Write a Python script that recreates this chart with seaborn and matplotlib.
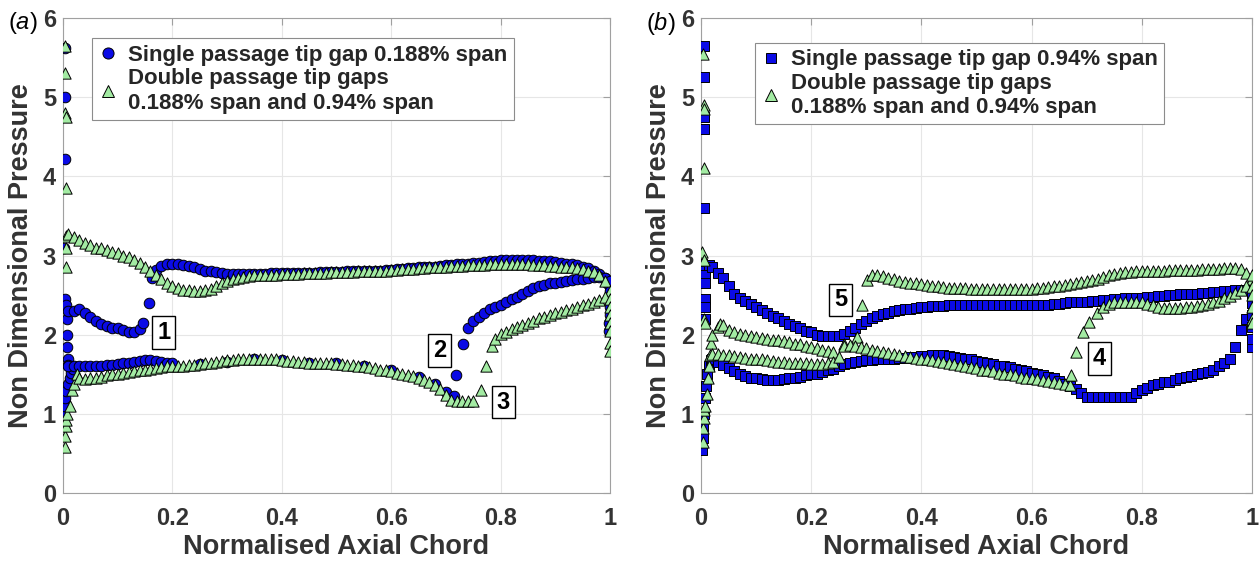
import numpy as np
import pandas as pd
import matplotlib
matplotlib.use("Agg")
import matplotlib.pyplot as plt
from matplotlib.lines import Line2D
import seaborn as sns

# ---------------- Panel (a) data ----------------
# single passage 0.188% span (circles)
a_c_le_x = [0.004, 0.004, 0.004, 0.002, 0.004, 0.006, 0.008, 0.008, 0.008, 0.009, 0.009,
            0.0, 0.002, 0.004, 0.006, 0.009, 0.012, 0.015, 0.018]
a_c_le_y = [5.62, 5.0, 4.22, 3.1, 2.45, 2.38, 2.2, 2.0, 1.85, 1.7, 1.62,
            1.0, 1.1, 1.2, 1.29, 1.38, 1.46, 1.52, 1.57]
a_c_s1_x = [0.01, 0.02, 0.03, 0.04, 0.05, 0.06, 0.07, 0.08, 0.09, 0.10, 0.11, 0.12, 0.13, 0.14, 0.147, 0.157]
a_c_s1_y = [2.30, 2.30, 2.33, 2.28, 2.23, 2.18, 2.14, 2.11, 2.09, 2.08, 2.06, 2.04, 2.03, 2.07, 2.15, 2.40]
a_c_top_x = [0.163, 0.17, 0.18, 0.19, 0.20, 0.21, 0.22, 0.23, 0.24, 0.25, 0.26, 0.27, 0.28, 0.29,
             0.30, 0.31, 0.32, 0.33, 0.34, 0.35, 0.36, 0.37, 0.38, 0.39, 0.40, 0.41, 0.42, 0.43,
             0.44, 0.45, 0.46, 0.47, 0.48, 0.49, 0.50, 0.51, 0.52, 0.53, 0.54, 0.55, 0.56, 0.57,
             0.58, 0.59, 0.60, 0.61, 0.62, 0.63, 0.64, 0.65, 0.66, 0.67, 0.68, 0.69, 0.70, 0.71,
             0.72, 0.73, 0.74, 0.75, 0.76, 0.77, 0.78, 0.79, 0.80, 0.81, 0.82, 0.83, 0.84, 0.85,
             0.86, 0.87, 0.88, 0.89, 0.90, 0.91, 0.92, 0.93, 0.94, 0.95, 0.96, 0.97, 0.98, 0.99,
             0.995, 1.0]
a_c_top_y = [2.72, 2.82, 2.87, 2.89, 2.90, 2.89, 2.88, 2.87, 2.85, 2.83, 2.81, 2.80, 2.79, 2.78,
             2.77, 2.77, 2.77, 2.77, 2.77, 2.77, 2.77, 2.77, 2.78, 2.78, 2.78, 2.78, 2.78, 2.78,
             2.78, 2.78, 2.78, 2.79, 2.79, 2.79, 2.79, 2.79, 2.80, 2.80, 2.80, 2.80, 2.81, 2.81,
             2.81, 2.82, 2.82, 2.83, 2.83, 2.84, 2.84, 2.85, 2.85, 2.86, 2.86, 2.87, 2.88, 2.88,
             2.89, 2.90, 2.90, 2.91, 2.91, 2.92, 2.93, 2.93, 2.94, 2.94, 2.94, 2.94, 2.94, 2.94,
             2.94, 2.93, 2.93, 2.93, 2.92, 2.91, 2.90, 2.89, 2.88, 2.86, 2.84, 2.81, 2.77, 2.72,
             2.66, 2.60]
a_c_low_x = [0.01, 0.02, 0.03, 0.04, 0.05, 0.06, 0.07, 0.08, 0.09, 0.10, 0.11, 0.12, 0.13, 0.14,
             0.15, 0.16, 0.17, 0.18, 0.19, 0.20, 0.25, 0.30, 0.35, 0.40, 0.45, 0.50, 0.55, 0.60,
             0.65, 0.68, 0.70, 0.714, 0.719, 0.731]
a_c_low_y = [1.61, 1.60, 1.60, 1.60, 1.60, 1.61, 1.61, 1.62, 1.62, 1.63, 1.64, 1.65, 1.66, 1.67,
             1.68, 1.68, 1.67, 1.66, 1.65, 1.64, 1.63, 1.66, 1.70, 1.68, 1.65, 1.64, 1.61, 1.55,
             1.47, 1.38, 1.28, 1.23, 1.49, 1.88]
a_c_te_x = [0.741, 0.75, 0.76, 0.77, 0.78, 0.79, 0.80, 0.81, 0.82, 0.83, 0.84, 0.85, 0.86, 0.87,
            0.88, 0.89, 0.90, 0.91, 0.92, 0.93, 0.94, 0.95, 0.96, 0.97, 0.98, 0.99, 1.0,
            1.0, 1.0, 1.0, 1.0, 0.999, 0.999]
a_c_te_y = [2.09, 2.17, 2.23, 2.28, 2.32, 2.35, 2.38, 2.42, 2.45, 2.48, 2.52, 2.55, 2.59, 2.61,
            2.63, 2.65, 2.66, 2.67, 2.68, 2.69, 2.70, 2.71, 2.72, 2.73, 2.73, 2.72, 2.68,
            2.55, 2.45, 2.35, 2.25, 2.15, 2.05]

# double passage (triangles)
a_t_le_x = [0.004, 0.004, 0.004, 0.005, 0.005, 0.006, 0.005, 0.006,
            0.003, 0.004, 0.005, 0.006, 0.008, 0.012, 0.016, 0.02, 0.025]
a_t_le_y = [5.65, 5.3, 4.8, 4.75, 3.85, 3.25, 3.1, 2.85,
            0.58, 0.72, 0.85, 0.92, 1.0, 1.1, 1.3, 1.38, 1.5]
a_t_top_x = [0.01, 0.02, 0.03, 0.04, 0.05, 0.06, 0.07, 0.08, 0.09, 0.10, 0.11, 0.12, 0.13, 0.14,
             0.15, 0.16, 0.17, 0.18, 0.19, 0.20, 0.21, 0.22, 0.23, 0.24, 0.25, 0.26, 0.27, 0.28,
             0.29, 0.30, 0.31, 0.32, 0.33, 0.34, 0.35, 0.36, 0.37, 0.38, 0.39, 0.40, 0.41, 0.42,
             0.43, 0.44, 0.45, 0.46, 0.47, 0.48, 0.49, 0.50, 0.51, 0.52, 0.53, 0.54, 0.55, 0.56,
             0.57, 0.58, 0.59, 0.60, 0.61, 0.62, 0.63, 0.64, 0.65, 0.66, 0.67, 0.68, 0.69, 0.70,
             0.71, 0.72, 0.73, 0.74, 0.75, 0.76, 0.77, 0.78, 0.79, 0.80, 0.81, 0.82, 0.83, 0.84,
             0.85, 0.86, 0.87, 0.88, 0.89, 0.90, 0.91, 0.92, 0.93, 0.94, 0.95, 0.96, 0.97, 0.98,
             0.99, 1.0]
a_t_top_y = [3.27, 3.24, 3.20, 3.16, 3.13, 3.10, 3.09, 3.07, 3.05, 3.03, 3.00, 2.98, 2.95, 2.91,
             2.86, 2.80, 2.75, 2.70, 2.66, 2.62, 2.59, 2.57, 2.56, 2.55, 2.55, 2.56, 2.58, 2.61,
             2.65, 2.68, 2.70, 2.72, 2.73, 2.74, 2.75, 2.75, 2.76, 2.76, 2.76, 2.77, 2.77, 2.77,
             2.77, 2.78, 2.78, 2.78, 2.78, 2.78, 2.79, 2.79, 2.79, 2.79, 2.79, 2.80, 2.80, 2.80,
             2.81, 2.81, 2.81, 2.82, 2.82, 2.83, 2.83, 2.83, 2.84, 2.84, 2.85, 2.85, 2.86, 2.86,
             2.87, 2.87, 2.87, 2.88, 2.88, 2.88, 2.88, 2.89, 2.89, 2.89, 2.89, 2.89, 2.89, 2.89,
             2.89, 2.88, 2.88, 2.88, 2.87, 2.87, 2.86, 2.86, 2.85, 2.84, 2.83, 2.81, 2.79, 2.75,
             2.68, 2.55]
a_t_low_x = [0.03, 0.04, 0.05, 0.06, 0.07, 0.08, 0.09, 0.10, 0.11, 0.12, 0.13, 0.14, 0.15, 0.16,
             0.17, 0.18, 0.19, 0.20, 0.21, 0.22, 0.23, 0.24, 0.25, 0.26, 0.27, 0.28, 0.29, 0.30,
             0.31, 0.32, 0.33, 0.34, 0.35, 0.36, 0.37, 0.38, 0.39, 0.40, 0.41, 0.42, 0.43, 0.44,
             0.45, 0.46, 0.47, 0.48, 0.49, 0.50, 0.51, 0.52, 0.53, 0.54, 0.55, 0.56, 0.57, 0.58,
             0.59, 0.60, 0.61, 0.62, 0.63, 0.64, 0.65, 0.66, 0.67, 0.68, 0.69, 0.70, 0.71, 0.72,
             0.73, 0.74, 0.75, 0.765, 0.774, 0.785]
a_t_low_y = [1.45, 1.44, 1.45, 1.46, 1.47, 1.49, 1.50, 1.51, 1.52, 1.53, 1.54, 1.55, 1.56, 1.57,
             1.58, 1.59, 1.60, 1.60, 1.61, 1.61, 1.62, 1.62, 1.63, 1.64, 1.65, 1.66, 1.67, 1.68,
             1.68, 1.69, 1.69, 1.70, 1.70, 1.70, 1.70, 1.69, 1.69, 1.68, 1.67, 1.67, 1.66, 1.66,
             1.65, 1.65, 1.64, 1.64, 1.64, 1.63, 1.63, 1.62, 1.62, 1.61, 1.60, 1.59, 1.58, 1.56,
             1.55, 1.54, 1.52, 1.51, 1.49, 1.48, 1.46, 1.43, 1.40, 1.36, 1.31, 1.24, 1.18, 1.17,
             1.17, 1.17, 1.17, 1.30, 1.60, 1.86]
a_t_te_x = [0.79, 0.80, 0.81, 0.82, 0.83, 0.84, 0.85, 0.86, 0.87, 0.88, 0.89, 0.90, 0.91, 0.92,
            0.93, 0.94, 0.95, 0.96, 0.97, 0.98, 0.99,
            1.0, 1.0, 1.0, 1.0, 1.0, 1.0, 1.0]
a_t_te_y = [1.95, 2.01, 2.04, 2.07, 2.10, 2.12, 2.15, 2.18, 2.21, 2.23, 2.25, 2.27, 2.29, 2.31,
            2.33, 2.35, 2.37, 2.39, 2.41, 2.44, 2.48,
            2.45, 2.35, 2.25, 2.15, 2.05, 1.9, 1.8]

# ---------------- Panel (b) data ----------------
# single passage 0.94% span (squares)
b_s_le_x = [0.005, 0.006, 0.005, 0.006, 0.006, 0.002, 0.005, 0.008, 0.008, 0.008, 0.008, 0.008,
            0.002, 0.003, 0.004, 0.005, 0.007, 0.009, 0.011, 0.014, 0.018]
b_s_le_y = [5.65, 5.25, 4.75, 4.6, 3.6, 2.9, 2.8, 2.75, 2.65, 2.45, 2.35, 2.2,
            0.55, 0.7, 0.85, 1.0, 1.2, 1.35, 1.5, 1.6, 1.68]
b_s_top_x = [0.015, 0.02, 0.03, 0.04, 0.05, 0.06, 0.07, 0.08, 0.09, 0.10, 0.11, 0.12, 0.13, 0.14,
             0.15, 0.16, 0.17, 0.18, 0.19, 0.20, 0.21, 0.22, 0.23, 0.24, 0.25, 0.26, 0.27, 0.28,
             0.29, 0.30, 0.31, 0.32, 0.33, 0.34, 0.35, 0.36, 0.37, 0.38, 0.39, 0.40, 0.41, 0.42,
             0.43, 0.44, 0.45, 0.46, 0.47, 0.48, 0.49, 0.50, 0.51, 0.52, 0.53, 0.54, 0.55, 0.56,
             0.57, 0.58, 0.59, 0.60, 0.61, 0.62, 0.63, 0.64, 0.65, 0.66, 0.67, 0.68, 0.69, 0.70,
             0.71, 0.72, 0.73, 0.74, 0.75, 0.76, 0.77, 0.78, 0.79, 0.80, 0.81, 0.82, 0.83, 0.84,
             0.85, 0.86, 0.87, 0.88, 0.89, 0.90, 0.91, 0.92, 0.93, 0.94, 0.95, 0.96, 0.97, 0.98,
             0.99, 1.0]
b_s_top_y = [2.88, 2.85, 2.78, 2.72, 2.62, 2.52, 2.47, 2.43, 2.39, 2.35, 2.31, 2.28, 2.24, 2.21,
             2.17, 2.14, 2.11, 2.08, 2.05, 2.03, 2.00, 1.99, 1.98, 1.98, 1.99, 2.01, 2.05, 2.09,
             2.14, 2.18, 2.21, 2.24, 2.26, 2.28, 2.30, 2.31, 2.32, 2.33, 2.34, 2.35, 2.35, 2.36,
             2.36, 2.36, 2.37, 2.37, 2.37, 2.37, 2.37, 2.37, 2.37, 2.37, 2.37, 2.37, 2.37, 2.37,
             2.37, 2.37, 2.37, 2.37, 2.37, 2.38, 2.38, 2.39, 2.39, 2.40, 2.41, 2.41, 2.42, 2.42,
             2.43, 2.43, 2.44, 2.44, 2.45, 2.45, 2.46, 2.46, 2.47, 2.47, 2.48, 2.48, 2.49, 2.49,
             2.50, 2.50, 2.51, 2.51, 2.52, 2.52, 2.53, 2.53, 2.54, 2.54, 2.55, 2.55, 2.56, 2.57,
             2.57, 2.55]
b_s_low_x = [0.02, 0.03, 0.04, 0.05, 0.06, 0.07, 0.08, 0.09, 0.10, 0.11, 0.12, 0.13, 0.14, 0.15,
             0.16, 0.17, 0.18, 0.19, 0.20, 0.21, 0.22, 0.23, 0.24, 0.25, 0.26, 0.27, 0.28, 0.29,
             0.30, 0.31, 0.32, 0.33, 0.34, 0.35, 0.36, 0.37, 0.38, 0.39, 0.40, 0.41, 0.42, 0.43,
             0.44, 0.45, 0.46, 0.47, 0.48, 0.49, 0.50, 0.51, 0.52, 0.53, 0.54, 0.55, 0.56, 0.57,
             0.58, 0.59, 0.60, 0.61, 0.62, 0.63, 0.64, 0.65, 0.66, 0.67, 0.68, 0.69, 0.70, 0.71,
             0.72, 0.73, 0.74, 0.75, 0.76, 0.77, 0.78, 0.79, 0.80, 0.81, 0.82, 0.83, 0.84, 0.85,
             0.86, 0.87, 0.88, 0.89, 0.90, 0.91, 0.92, 0.93, 0.94, 0.95, 0.96, 0.97, 0.98, 0.99,
             1.0, 1.0, 1.0, 1.0, 1.0, 1.0]
b_s_low_y = [1.70, 1.66, 1.62, 1.58, 1.54, 1.51, 1.48, 1.46, 1.45, 1.44, 1.43, 1.43, 1.43, 1.44,
             1.45, 1.46, 1.47, 1.49, 1.50, 1.51, 1.53, 1.55, 1.57, 1.60, 1.63, 1.65, 1.66, 1.67,
             1.68, 1.68, 1.69, 1.69, 1.70, 1.70, 1.71, 1.71, 1.72, 1.72, 1.73, 1.73, 1.74, 1.74,
             1.74, 1.73, 1.72, 1.71, 1.70, 1.69, 1.67, 1.66, 1.65, 1.63, 1.61, 1.60, 1.59, 1.57,
             1.56, 1.54, 1.52, 1.51, 1.49, 1.47, 1.45, 1.42, 1.38, 1.35, 1.31, 1.26, 1.22, 1.21,
             1.21, 1.21, 1.22, 1.22, 1.22, 1.22, 1.22, 1.26, 1.30, 1.33, 1.36, 1.38, 1.40, 1.41,
             1.43, 1.45, 1.47, 1.48, 1.50, 1.52, 1.53, 1.56, 1.60, 1.64, 1.70, 1.84, 2.06, 2.20,
             1.84, 1.95, 2.10, 2.25, 2.40, 2.50]

# double passage (triangles)
b_t_le_x = [0.004, 0.005, 0.005, 0.005, 0.001, 0.006, 0.006, 0.007,
            0.003, 0.004, 0.005, 0.006, 0.008, 0.010, 0.012, 0.014, 0.016, 0.018, 0.020]
b_t_le_y = [5.55, 4.9, 4.85, 4.1, 3.05, 2.95, 2.2, 2.15,
            0.65, 0.82, 0.95, 1.05, 1.1, 1.25, 1.45, 1.6, 1.75, 1.9, 2.0]
b_t_top_x = [0.293, 0.302, 0.31, 0.32, 0.33, 0.34, 0.35, 0.36, 0.37, 0.38, 0.39, 0.40, 0.41, 0.42,
             0.43, 0.44, 0.45, 0.46, 0.47, 0.48, 0.49, 0.50, 0.51, 0.52, 0.53, 0.54, 0.55, 0.56,
             0.57, 0.58, 0.59, 0.60, 0.61, 0.62, 0.63, 0.64, 0.65, 0.66, 0.67, 0.68, 0.69, 0.70,
             0.71, 0.72, 0.73, 0.74, 0.75, 0.76, 0.77, 0.78, 0.79, 0.80, 0.81, 0.82, 0.83, 0.84,
             0.85, 0.86, 0.87, 0.88, 0.89, 0.90, 0.91, 0.92, 0.93, 0.94, 0.95, 0.96, 0.97, 0.98,
             0.99, 1.0]
b_t_top_y = [2.37, 2.69, 2.76, 2.76, 2.74, 2.72, 2.70, 2.68, 2.67, 2.66, 2.65, 2.64, 2.63, 2.62,
             2.61, 2.60, 2.59, 2.59, 2.59, 2.59, 2.58, 2.58, 2.58, 2.58, 2.58, 2.58, 2.58, 2.58,
             2.58, 2.58, 2.58, 2.58, 2.59, 2.59, 2.60, 2.61, 2.62, 2.63, 2.64, 2.65, 2.67, 2.68,
             2.69, 2.71, 2.73, 2.75, 2.77, 2.78, 2.79, 2.79, 2.80, 2.80, 2.81, 2.81, 2.81, 2.81,
             2.82, 2.82, 2.82, 2.82, 2.82, 2.82, 2.83, 2.83, 2.83, 2.83, 2.84, 2.84, 2.84, 2.83,
             2.78, 2.70]
b_t_mid1_x = [0.03, 0.035, 0.04, 0.05, 0.06, 0.07, 0.08, 0.09, 0.10, 0.11, 0.12, 0.13, 0.14, 0.15,
              0.16, 0.17, 0.18, 0.19, 0.20, 0.21, 0.22, 0.23, 0.24]
b_t_mid1_y = [2.10, 2.14, 2.12, 2.06, 2.03, 2.01, 2.00, 1.98, 1.97, 1.96, 1.95, 1.94, 1.93, 1.92,
              1.91, 1.89, 1.88, 1.86, 1.85, 1.83, 1.81, 1.79, 1.78]
b_t_mid2_x = [0.02, 0.03, 0.04, 0.05, 0.06, 0.07, 0.08, 0.09, 0.10, 0.11, 0.12, 0.13, 0.14, 0.15,
              0.16, 0.17, 0.18, 0.19, 0.20, 0.21, 0.22, 0.23, 0.24, 0.25, 0.259, 0.284]
b_t_mid2_y = [1.76, 1.76, 1.75, 1.74, 1.73, 1.72, 1.71, 1.70, 1.69, 1.69, 1.68, 1.67, 1.66, 1.66,
              1.65, 1.65, 1.64, 1.64, 1.63, 1.63, 1.63, 1.64, 1.66, 1.72, 1.89, 1.97]
b_t_mid3_x = [0.26, 0.27, 0.28, 0.29, 0.30, 0.31, 0.32, 0.33, 0.34, 0.35, 0.36, 0.37, 0.38, 0.39,
              0.40, 0.41, 0.42, 0.43, 0.44, 0.45, 0.46, 0.47, 0.48, 0.49, 0.50, 0.51, 0.52, 0.53,
              0.54, 0.55, 0.56, 0.57, 0.58, 0.59, 0.60, 0.61, 0.62, 0.63, 0.64, 0.65, 0.66, 0.67,
              0.672]
b_t_mid3_y = [1.86, 1.87, 1.86, 1.84, 1.83, 1.81, 1.80, 1.78, 1.77, 1.76, 1.74, 1.73, 1.72, 1.71,
              1.70, 1.69, 1.68, 1.67, 1.66, 1.64, 1.63, 1.62, 1.61, 1.59, 1.58, 1.56, 1.55, 1.54,
              1.52, 1.51, 1.50, 1.49, 1.47, 1.46, 1.45, 1.44, 1.43, 1.42, 1.41, 1.39, 1.38, 1.37,
              1.49]
b_t_te_x = [0.681, 0.694, 0.705, 0.718, 0.73, 0.74, 0.75, 0.76, 0.77, 0.78, 0.79, 0.80, 0.81, 0.82,
            0.83, 0.84, 0.85, 0.86, 0.87, 0.88, 0.89, 0.90, 0.91, 0.92, 0.93, 0.94, 0.95, 0.96,
            0.97, 0.98, 0.99, 1.0, 1.0, 1.0, 1.0, 1.0, 1.0]
b_t_te_y = [1.78, 2.03, 2.16, 2.28, 2.35, 2.39, 2.41, 2.42, 2.42, 2.42, 2.42, 2.41, 2.39, 2.37,
            2.35, 2.34, 2.34, 2.34, 2.34, 2.35, 2.35, 2.36, 2.37, 2.39, 2.41, 2.43, 2.46, 2.49,
            2.53, 2.57, 2.62, 2.75, 2.60, 2.50, 2.35, 2.20, 2.15]

# labels
x_ticks = [0, 0.2, 0.4, 0.6, 0.8, 1]
x_tick_labels = ["0", "0.2", "0.4", "0.6", "0.8", "1"]
y_ticks = [0, 1, 2, 3, 4, 5, 6]
a_legend = ["Single passage tip gap 0.188% span",
            "Double passage tip gaps\n0.188% span and 0.94% span"]
b_legend = ["Single passage tip gap 0.94% span",
            "Double passage tip gaps\n0.188% span and 0.94% span"]
a_notes = [("1", 0.184, 2.03), ("2", 0.688, 1.80), ("3", 0.805, 1.15)]
b_notes = [("5", 0.253, 2.44), ("4", 0.723, 1.70)]


def frame(xs, ys):
    return pd.DataFrame({"x": sum(xs, []), "y": sum(ys, [])})


sns.set_style("white")
plt.rcParams["font.family"] = ["Liberation Sans", "DejaVu Sans"]
plt.rcParams["mathtext.fontset"] = "custom"
plt.rcParams["mathtext.it"] = "Liberation Sans:italic"
plt.rcParams["mathtext.rm"] = "Liberation Sans"

BLUE = "#0b0be6"
GREEN = "#a3eba3"
TXT = "#333333"

fig = plt.figure(figsize=(12.59, 5.63), dpi=100)
axA = fig.add_axes([0.050, 0.124, 0.4345, 0.844])
axB = fig.add_axes([0.5568, 0.124, 0.4376, 0.844])

panels = [
    (axA, frame([a_c_le_x, a_c_s1_x, a_c_top_x, a_c_low_x, a_c_te_x],
                [a_c_le_y, a_c_s1_y, a_c_top_y, a_c_low_y, a_c_te_y]),
     "o", 58,
     frame([a_t_le_x, a_t_top_x, a_t_low_x, a_t_te_x],
           [a_t_le_y, a_t_top_y, a_t_low_y, a_t_te_y]),
     a_legend, a_notes, (0.054, 0.957), "a"),
    (axB, frame([b_s_le_x, b_s_top_x, b_s_low_x], [b_s_le_y, b_s_top_y, b_s_low_y]),
     "s", 44,
     frame([b_t_le_x, b_t_top_x, b_t_mid1_x, b_t_mid2_x, b_t_mid3_x, b_t_te_x],
           [b_t_le_y, b_t_top_y, b_t_mid1_y, b_t_mid2_y, b_t_mid3_y, b_t_te_y]),
     b_legend, b_notes, (0.098, 0.948), "b"),
]

for ax, df1, m1, s1, df2, leg, notes, lpos, letter in panels:
    sns.scatterplot(data=df1, x="x", y="y", ax=ax, marker=m1, s=s1, color=BLUE,
                    edgecolor="black", linewidth=0.7, zorder=3)
    sns.scatterplot(data=df2, x="x", y="y", ax=ax, marker="^", s=66, color=GREEN,
                    edgecolor="black", linewidth=0.7, zorder=4)
    ax.set_xlim(0, 1)
    ax.set_ylim(0, 6)
    ax.set_xticks(x_ticks)
    ax.set_xticklabels(x_tick_labels)
    ax.set_yticks(y_ticks)
    ax.grid(True, color="#e6e6e6", linewidth=0.8)
    ax.set_axisbelow(True)
    for sp in ax.spines.values():
        sp.set_color("#a0a0a0")
        sp.set_linewidth(0.8)
    ax.tick_params(direction="in", length=5, width=0.8, color="#a0a0a0",
                   top=True, right=True, labelsize=17, labelcolor=TXT)
    ax.tick_params(axis="x", pad=10)
    ax.tick_params(axis="y", pad=5)
    for lab in ax.get_xticklabels() + ax.get_yticklabels():
        lab.set_fontweight("bold")
    ax.set_xlabel("Normalised Axial Chord", fontsize=19.5, fontweight="bold", color=TXT, labelpad=3)
    ax.set_ylabel("Non Dimensional Pressure", fontsize=19.5, fontweight="bold", color=TXT, labelpad=6)
    handles = [Line2D([], [], linestyle="none", marker=m1, markersize=8 if m1 == "o" else 7,
                      markerfacecolor=BLUE, markeredgecolor="black", markeredgewidth=0.7),
               Line2D([], [], linestyle="none", marker="^", markersize=8.5,
                      markerfacecolor=GREEN, markeredgecolor="black", markeredgewidth=0.7)]
    lg = ax.legend(handles, leg, loc="upper left", bbox_to_anchor=lpos, borderaxespad=0,
                   prop={"weight": "bold", "size": 16}, frameon=True, fancybox=False,
                   edgecolor="#8c8c8c", framealpha=1, handlelength=0.8, handletextpad=0.5,
                   labelspacing=0.1, borderpad=0.3)
    lg.get_frame().set_linewidth(0.8)
    for t, nx, ny in notes:
        ax.text(nx, ny, t, fontsize=17, fontweight="bold", ha="center", va="center",
                color="black", zorder=6,
                bbox=dict(boxstyle="square,pad=0.2", fc="white", ec="black", lw=1))
    bb = ax.get_position()
    fig.text(bb.x0 - 0.044, 0.959,
             r"($\mathit{" + letter + r"}$)", fontsize=17, color="black",
             ha="left", va="center")

fig.savefig("out.png", dpi=100)
